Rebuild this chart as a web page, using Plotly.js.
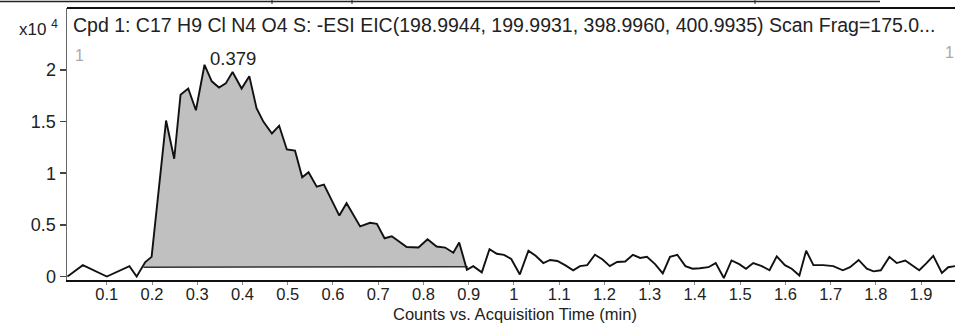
<!DOCTYPE html>
<html>
<head>
<meta charset="utf-8">
<script src="https://cdn.plot.ly/plotly-3.0.1.min.js"></script>
<style>html,body{margin:0;padding:0;background:#fff;}#chart{width:955px;height:324px;}</style>
</head>
<body>
<div id="chart"></div>
<script>
// Acquisition time (min)
const times = [0.013,0.047,0.100,0.150,0.166,0.185,0.199,0.231,0.249,0.263,0.280,0.297,0.316,0.332,0.348,0.363,0.378,0.398,0.415,0.431,0.446,0.465,0.481,0.498,0.516,0.532,0.546,0.564,0.580,0.614,0.630,0.660,0.682,0.697,0.714,0.730,0.763,0.789,0.809,0.829,0.848,0.866,0.879,0.896,0.910,0.929,0.946,0.962,0.978,0.994,1.013,1.032,1.048,1.065,1.080,1.096,1.113,1.131,1.146,1.162,1.179,1.196,1.212,1.228,1.246,1.263,1.279,1.294,1.312,1.329,1.345,1.361,1.379,1.395,1.411,1.430,1.446,1.464,1.481,1.498,1.513,1.529,1.548,1.565,1.581,1.599,1.614,1.631,1.646,1.662,1.684,1.706,1.727,1.743,1.762,1.780,1.795,1.811,1.830,1.846,1.865,1.879,1.896,1.912,1.927,1.946,1.960,1.975];
// Counts (x10^4)
const counts = [0.0,0.11,0.0,0.10,0.0,0.14,0.19,1.51,1.14,1.76,1.82,1.61,2.05,1.89,1.83,1.87,1.98,1.82,1.94,1.63,1.50,1.385,1.46,1.23,1.22,0.96,1.01,0.87,0.89,0.59,0.71,0.485,0.52,0.51,0.37,0.39,0.285,0.28,0.36,0.29,0.28,0.23,0.33,0.065,0.10,0.04,0.265,0.22,0.21,0.17,0.02,0.25,0.20,0.13,0.16,0.15,0.11,0.06,0.10,0.11,0.21,0.165,0.10,0.14,0.145,0.21,0.18,0.19,0.12,0.03,0.19,0.21,0.10,0.075,0.08,0.09,0.13,-0.015,0.155,0.12,0.075,0.13,0.10,0.06,0.195,0.11,0.075,0.01,0.25,0.11,0.11,0.10,0.06,0.09,0.16,0.075,0.05,0.06,0.19,0.13,0.155,0.11,0.06,0.13,0.20,0.035,0.09,0.10];
// Integration baseline
const baseTimes = [0.181, 0.898];
const baseCounts = [0.09, 0.095];
const peakStart = 0.18, peakEnd = 0.90;
const peakLabel = "0.379";
const peakTime = 0.379;
const xTicks = [0.1,0.2,0.3,0.4,0.5,0.6,0.7,0.8,0.9,1,1.1,1.2,1.3,1.4,1.5,1.6,1.7,1.8,1.9];
const yTicks = [0,0.5,1,1.5,2];
const titleText = "Cpd 1: C17 H9 Cl N4 O4 S: -ESI EIC(198.9944, 199.9931, 398.9960, 400.9935) Scan Frag=175.0...";
const xTitle = "Counts vs. Acquisition Time (min)";

const pkX = [], pkY = [];
times.forEach((t,i)=>{ if (t>=peakStart && t<=peakEnd){ pkX.push(t); pkY.push(counts[i]); } });

const W = 955, H = 324, L = 67, R = 0, T = 8, B = 44;
const pw = W - L - R, ph = H - T - B;
const px = v => (v - L) / pw;
const py = v => (H - B - v) / ph;

const FAM = 'Liberation Sans, Arial, sans-serif';
const INK = '#222';

const traces = [
  {x: baseTimes, y: baseCounts, mode: 'lines', line: {color: '#333', width: 1.5}, hoverinfo: 'skip', showlegend: false},
  {x: pkX, y: pkY, mode: 'lines', fill: 'tonexty', fillcolor: '#c0c0c0', line: {color: 'rgba(0,0,0,0)', width: 0}, hoverinfo: 'skip', showlegend: false},
  {x: times, y: counts, mode: 'lines', line: {color: '#111', width: 1.9}, showlegend: false}
];

const layout = {
  width: W, height: H,
  margin: {l: L, r: R, t: T, b: B, pad: 0},
  paper_bgcolor: '#fff', plot_bgcolor: '#fff',
  showlegend: false,
  font: {family: FAM, size: 17, color: INK},
  xaxis: {
    range: [0.012, 1.975], tickmode: 'array', tickvals: xTicks, ticktext: xTicks.map(String),
    showgrid: false, zeroline: false, showline: true, linecolor: '#111', linewidth: 2,
    ticks: 'outside', ticklen: 3, tickcolor: '#888', tickwidth: 1, ticklabelstandoff: -5,
    tickfont: {family: FAM, size: 16.5, color: INK}
  },
  yaxis: {
    range: [-0.034, 2.60], tickmode: 'array', tickvals: yTicks, ticktext: yTicks.map(String),
    showgrid: false, zeroline: false, showline: true, linecolor: '#666', linewidth: 1.5,
    ticks: 'outside', ticklen: 6, tickcolor: '#444', tickwidth: 1.5,
    tickfont: {family: FAM, size: 18, color: INK}
  },
  shapes: [
    {type: 'line', xref: 'paper', yref: 'paper', x0: 0, x1: 1, y0: 1, y1: 1, line: {color: '#111', width: 2}},
    {type: 'line', xref: 'paper', yref: 'paper', x0: px(0), x1: px(880), y0: py(1.5), y1: py(1.5), line: {color: '#222', width: 1.5}},
    {type: 'line', xref: 'paper', yref: 'paper', x0: px(272), x1: px(272), y0: py(0), y1: py(4), line: {color: '#222', width: 1}},
    {type: 'line', xref: 'paper', yref: 'paper', x0: px(352), x1: px(352), y0: py(0), y1: py(4), line: {color: '#222', width: 1}},
    {type: 'line', xref: 'paper', yref: 'paper', x0: px(755), x1: px(755), y0: py(0), y1: py(4), line: {color: '#222', width: 1}}
  ],
  annotations: [
    {xref: 'paper', yref: 'paper', x: px(71), y: py(25), xanchor: 'left', yanchor: 'middle', showarrow: false,
     text: titleText, font: {family: FAM, size: 19.5, color: INK}},
    {xref: 'paper', yref: 'paper', x: px(60), y: py(28), xanchor: 'right', yanchor: 'middle', showarrow: false,
     text: 'x10 <sup>4</sup>', font: {family: FAM, size: 17, color: INK}},
    {xref: 'paper', yref: 'paper', x: px(73), y: py(55), xanchor: 'left', yanchor: 'middle', showarrow: false,
     text: '1', font: {family: FAM, size: 16, color: '#aaa'}},
    {xref: 'paper', yref: 'paper', x: px(956), y: py(53), xanchor: 'right', yanchor: 'middle', showarrow: false,
     text: '1', font: {family: FAM, size: 16, color: '#aaa'}},
    {xref: 'x', yref: 'y', x: peakTime, y: 2.11, xanchor: 'center', yanchor: 'middle', showarrow: false,
     text: peakLabel, font: {family: FAM, size: 18.5, color: INK}},
    {xref: 'paper', yref: 'paper', x: px(515), y: py(323.8), xanchor: 'center', yanchor: 'bottom', showarrow: false,
     borderpad: 0, text: xTitle, font: {family: FAM, size: 16.5, color: INK}}
  ]
};

Plotly.newPlot('chart', traces, layout, {displayModeBar: false, staticPlot: true});
</script>
</body>
</html>
